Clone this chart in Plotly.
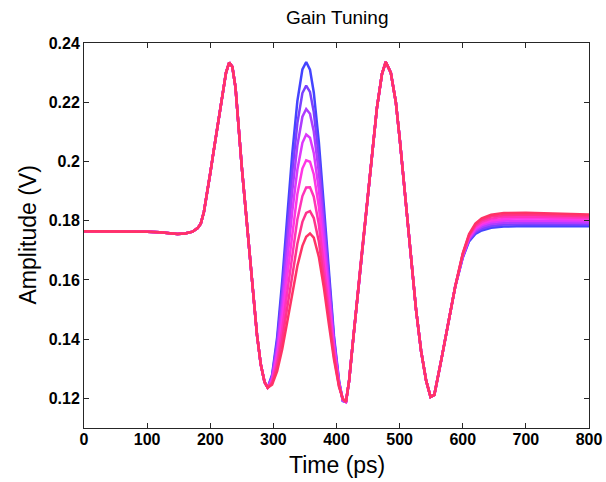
import plotly.graph_objects as go

# ---- data ----
# common leading part (flat, dip, first lobe, first trough)
pre_t = [0, 50, 100, 120, 135, 148, 160, 172, 180, 185, 190, 195, 200, 205, 210, 215, 220, 225, 230,
         235, 240, 245, 250, 256, 262, 268, 274, 280, 286, 291]
pre_v = [0.1764, 0.1764, 0.1763, 0.1761, 0.1757, 0.1755, 0.1757, 0.1763, 0.1775, 0.1790, 0.1830, 0.1890,
         0.1960, 0.2030, 0.2100, 0.2170, 0.2240, 0.2300, 0.2334, 0.2320, 0.2250, 0.2100, 0.1980, 0.1840,
         0.1700, 0.1545, 0.1415, 0.1315, 0.1255, 0.1236]

# middle lobe, one list per gain setting (blue -> red)
mid_t = [298, 306, 314, 322, 330, 338, 346, 352, 358, 364, 372, 380, 388, 396, 404, 410]
mid_1 = [0.1280, 0.1407, 0.1596, 0.1814, 0.2028, 0.2204, 0.2311, 0.2336, 0.2310, 0.2233, 0.2066, 0.1849, 0.1618, 0.1411, 0.1260, 0.1191]
mid_2 = [0.1275, 0.1392, 0.1565, 0.1766, 0.1964, 0.2129, 0.2231, 0.2256, 0.2235, 0.2167, 0.2014, 0.1812, 0.1595, 0.1400, 0.1257, 0.1192]
mid_3 = [0.1271, 0.1376, 0.1534, 0.1719, 0.1901, 0.2054, 0.2151, 0.2177, 0.2161, 0.2101, 0.1962, 0.1775, 0.1573, 0.1390, 0.1254, 0.1193]
mid_4 = [0.1266, 0.1359, 0.1500, 0.1666, 0.1832, 0.1972, 0.2063, 0.2091, 0.2080, 0.2029, 0.1905, 0.1734, 0.1548, 0.1378, 0.1251, 0.1194]
mid_5 = [0.1261, 0.1342, 0.1467, 0.1614, 0.1763, 0.1890, 0.1976, 0.2004, 0.1999, 0.1957, 0.1848, 0.1694, 0.1523, 0.1366, 0.1248, 0.1196]
mid_6 = [0.1256, 0.1324, 0.1431, 0.1559, 0.1690, 0.1804, 0.1883, 0.1912, 0.1913, 0.1881, 0.1787, 0.1651, 0.1497, 0.1354, 0.1245, 0.1197]
mid_7 = [0.1251, 0.1308, 0.1397, 0.1507, 0.1621, 0.1722, 0.1796, 0.1826, 0.1832, 0.1809, 0.1730, 0.1610, 0.1472, 0.1342, 0.1242, 0.1198]
mid_8 = [0.1246, 0.1292, 0.1366, 0.1459, 0.1557, 0.1647, 0.1715, 0.1746, 0.1757, 0.1743, 0.1678, 0.1573, 0.1449, 0.1331, 0.1239, 0.1199]

# common part: second trough, third lobe, third trough, rising edge
post_t = [415, 420, 425, 432, 440, 448, 456, 464, 472, 478, 486, 494, 500, 504, 510, 518, 526, 534, 542,
          549, 555, 566, 577, 588]
post_v = [0.1188, 0.1260, 0.1370, 0.1520, 0.1690, 0.1850, 0.2020, 0.2180, 0.2295, 0.2336, 0.2300, 0.2200,
          0.2080, 0.1990, 0.1860, 0.1680, 0.1500, 0.1360, 0.1260, 0.1205, 0.1212, 0.1330, 0.1460, 0.1577]

# settling tail, one list per gain setting
end_t = [600, 610, 620, 630, 645, 665, 700, 750, 800]
end_1 = [0.1675, 0.1730, 0.1755, 0.1767, 0.1776, 0.1780, 0.1782, 0.1782, 0.1781]
end_2 = [0.1677, 0.1734, 0.1760, 0.1773, 0.1782, 0.1787, 0.1788, 0.1788, 0.1787]
end_3 = [0.1679, 0.1737, 0.1765, 0.1779, 0.1789, 0.1793, 0.1795, 0.1794, 0.1792]
end_4 = [0.1681, 0.1741, 0.1770, 0.1785, 0.1795, 0.1800, 0.1801, 0.1800, 0.1798]
end_5 = [0.1684, 0.1744, 0.1775, 0.1790, 0.1801, 0.1806, 0.1808, 0.1806, 0.1804]
end_6 = [0.1686, 0.1748, 0.1780, 0.1796, 0.1807, 0.1813, 0.1814, 0.1812, 0.1810]
end_7 = [0.1688, 0.1751, 0.1785, 0.1802, 0.1814, 0.1819, 0.1821, 0.1818, 0.1815]
end_8 = [0.1690, 0.1755, 0.1790, 0.1808, 0.1820, 0.1826, 0.1827, 0.1824, 0.1821]

mids = [mid_1, mid_2, mid_3, mid_4, mid_5, mid_6, mid_7, mid_8]
ends = [end_1, end_2, end_3, end_4, end_5, end_6, end_7, end_8]
colors = ["#4444ff", "#7a40ff", "#ad3cff", "#dc38fb", "#ff36e4", "#ff34b8", "#ff338c", "#ff3366"]

x_ticks = [0, 100, 200, 300, 400, 500, 600, 700, 800]
x_ticktext = ["0", "100", "200", "300", "400", "500", "600", "700", "800"]
y_ticks = [0.12, 0.14, 0.16, 0.18, 0.20, 0.22, 0.24]
y_ticktext = ["0.12", "0.14", "0.16", "0.18", "0.2", "0.22", "0.24"]

FONT = "Liberation Sans, Arial, sans-serif"

fig = go.Figure()
full_t = pre_t + mid_t + post_t + end_t
for m, e, c in zip(mids, ends, colors):
    fig.add_trace(go.Scatter(x=full_t, y=pre_v + m + post_v + e, mode="lines",
                             line=dict(color=c, width=2.5), showlegend=False, hoverinfo="skip"))

axis_common = dict(showline=True, linecolor="#262626", linewidth=1, mirror="ticks", automargin=False,
                   ticks="inside", ticklen=5, tickcolor="#262626", showgrid=False, zeroline=False,
                   tickfont=dict(family=FONT, size=16, color="black", weight="bold"))

fig.update_layout(
    template="none",
    width=606, height=482, autosize=False,
    margin=dict(l=84, r=17, t=43, b=54, pad=0),
    paper_bgcolor="white", plot_bgcolor="white",
    xaxis=dict(range=[0, 800], tickvals=x_ticks, ticktext=x_ticktext, ticklabelstandoff=-3, **axis_common),
    yaxis=dict(range=[0.11, 0.24], tickvals=y_ticks, ticktext=y_ticktext, **axis_common),
    annotations=[
        dict(text="Gain Tuning", xref="paper", yref="paper", x=0.5, y=1, yshift=26,
             showarrow=False, font=dict(family=FONT, size=19, color="black"),
             xanchor="center", yanchor="middle"),
        dict(text="Time (ps)", xref="paper", yref="paper", x=0.5, y=0, yshift=-37,
             showarrow=False, font=dict(family=FONT, size=23, color="black"),
             xanchor="center", yanchor="middle"),
        dict(text="Amplitude (V)", xref="paper", yref="paper", x=0, y=0.5, xshift=-57,
             showarrow=False, textangle=-90,
             font=dict(family=FONT, size=23, color="black"),
             xanchor="center", yanchor="middle"),
    ],
)

# remove the browser's default 8px body margin so the 606x482 figure fills the window exactly
fig.write_html("out.html", config={"displayModeBar": False, "responsive": False},
               post_script="document.body.style.margin='0px'; document.body.style.overflow='hidden';")
